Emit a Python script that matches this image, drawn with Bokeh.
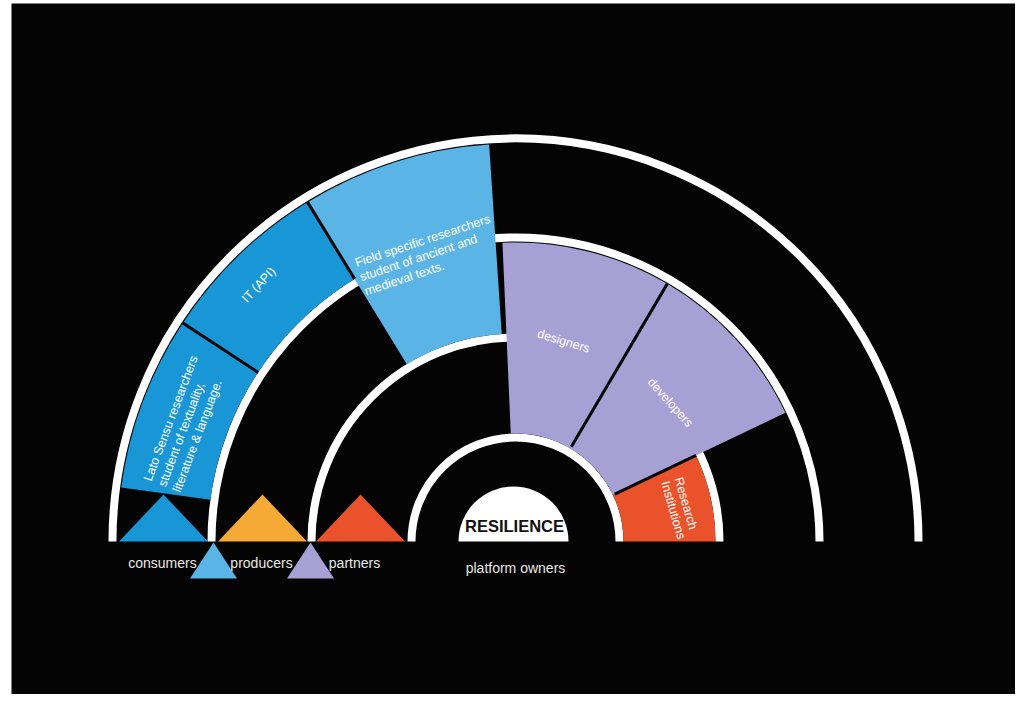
import numpy as np
from bokeh.plotting import figure
from bokeh.models import Range1d, ColumnDataSource
from bokeh.core.properties import value
from bokeh.embed import file_html
from bokeh.resources import INLINE

# ---------------- data ----------------
ring_radii = [403, 304, 204, 104]

seg_names = ["Lato Sensu", "IT (API)", "Field specific", "designers", "developers", "Research Institutions"]
seg_start = [146.7, 121.5, 93.8, 59.5, 25.5, 0.0]
seg_end = [172.2, 146.7, 121.5, 92.5, 59.5, 25.5]
seg_inner = [308, 308, 208, 108, 108, 108]
seg_outer = [398, 398, 398, 299, 299, 200]
seg_colors = ["#1896d6", "#1896d6", "#5ab4e6", "#a6a0d4", "#a6a0d4", "#e9522b"]

divider_angles = [146.7, 121.5, 59.5, 25.5]
divider_inner = [308, 308, 110, 110]
divider_outer = [398, 398, 299, 200]

seg_label_lines = [
    ["Lato Sensu researchers", "student of textuality,", "literature & language."],
    ["IT (API)"],
    ["Field specific researchers", "student of ancient and", "medieval texts."],
    ["designers"],
    ["developers"],
    ["Research", "Institutions"],
]
seg_label_theta = [170.6, 135.0, 119.9, 76.5, 41.9, 21.4]
seg_label_r = [373, 363, 321, 206, 208, 175]
seg_label_rot = [69.4, 47.0, 18.4, -17.0, -48.0, -74.0]
seg_label_align = ["left", "center", "left", "center", "center", "left"]
seg_label_spacing = [15.5, 15, 15, 15, 15, 14]

role_names = ["consumers", "producers", "partners"]
role_x = [-353, -254, -161]
up_tri_x = [-352, -253, -155]
up_tri_colors = ["#1896d6", "#f5aa36", "#e9522b"]
down_tri_x = [-302, -205]
down_tri_colors = ["#5ab4e6", "#a6a0d4"]

center_title = "RESILIENCE"
center_caption = "platform owners"

FONT = "Liberation Sans"

# ---------------- figure ----------------
p = figure(width=1015, height=694, output_backend="svg", toolbar_location=None,
           x_range=Range1d(-504, 500), y_range=Range1d(-153, 538),
           min_border_left=11, min_border_right=0, min_border_top=3, min_border_bottom=0)
p.axis.visible = False
p.grid.visible = False
p.outline_line_color = None
p.background_fill_color = "#040404"
p.border_fill_color = "white"

# white rings
p.arc(x=0, y=0, radius=ring_radii, start_angle=0, end_angle=np.pi,
      line_color="white", line_width=8)

# segments
src = ColumnDataSource(dict(
    start=np.radians(seg_start), end=np.radians(seg_end),
    inner=seg_inner, outer=seg_outer, color=seg_colors))
p.annular_wedge(x=0, y=0, inner_radius="inner", outer_radius="outer",
                start_angle="start", end_angle="end", fill_color="color",
                line_color=None, source=src)

# black dividers
da = np.radians(divider_angles)
p.segment(x0=np.array(divider_inner) * np.cos(da), y0=np.array(divider_inner) * np.sin(da),
          x1=np.array(divider_outer) * np.cos(da), y1=np.array(divider_outer) * np.sin(da),
          line_color="#050505", line_width=3)

# centre semicircle
p.wedge(x=-2, y=0, radius=55, start_angle=0, end_angle=np.pi,
        fill_color="white", line_color=None)

# triangles
up_w, up_h = 89, 47
p.patches(xs=[[x - up_w / 2, x + up_w / 2, x] for x in up_tri_x],
          ys=[[0, 0, up_h] for _ in up_tri_x],
          fill_color=up_tri_colors, line_color=None)
dn_w, dn_h = 47, 37
p.patches(xs=[[x - dn_w / 2, x + dn_w / 2, x] for x in down_tri_x],
          ys=[[-dn_h, -dn_h, -1] for _ in down_tri_x],
          fill_color=down_tri_colors, line_color=None)

# segment labels
tx, ty, tt, ta, talign = [], [], [], [], []
for lines, th, r, rot, al, sp in zip(seg_label_lines, seg_label_theta, seg_label_r,
                                     seg_label_rot, seg_label_align, seg_label_spacing):
    thr = np.radians(th)
    rr = np.radians(rot)
    x0, y0 = r * np.cos(thr), r * np.sin(thr)
    for k, line in enumerate(lines):
        tx.append(x0 + k * sp * np.sin(rr))
        ty.append(y0 - k * sp * np.cos(rr))
        tt.append(line)
        ta.append(rr)
        talign.append(al)
lsrc = ColumnDataSource(dict(x=tx, y=ty, text=tt, angle=ta, align=talign))
p.text(x="x", y="y", text="text", angle="angle", text_align="align", source=lsrc,
       text_baseline="middle", text_color="white", text_font=value(FONT),
       text_font_size="12.5px")

# role labels
p.text(x=role_x, y=[-21] * len(role_x), text=role_names, text_align="center",
       text_baseline="middle", text_color="#e8e8e8", text_font=value(FONT),
       text_font_size="14px")
p.text(x=[0], y=[-26], text=[center_caption], text_align="center",
       text_baseline="middle", text_color="#e8e8e8", text_font=value(FONT),
       text_font_size="14px")
p.text(x=[-1], y=[16], text=[center_title], text_align="center",
       text_baseline="middle", text_color="#111111", text_font=value(FONT),
       text_font_size="16.5px", text_font_style="bold")

open("out.html", "w").write(file_html(p, INLINE))
